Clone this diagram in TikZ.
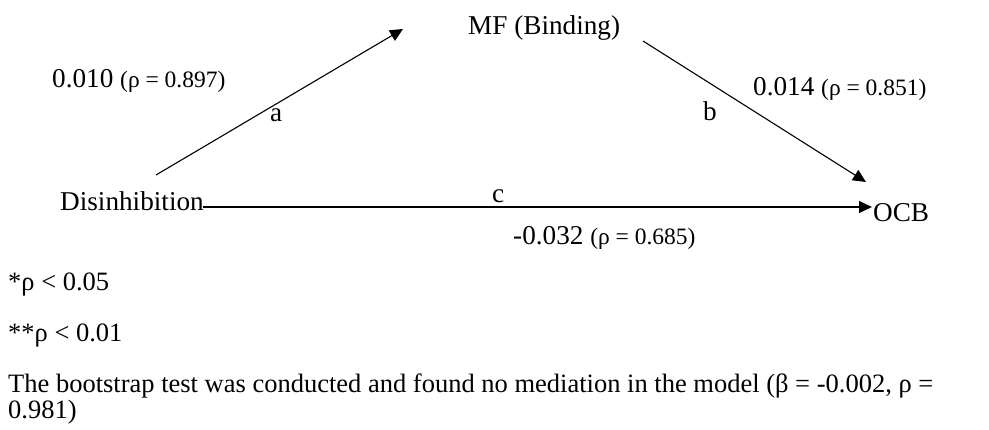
\documentclass[tikz,border=0pt]{standalone}
\usepackage{fontspec}
\setmainfont{Liberation Serif}
\usetikzlibrary{arrows.meta}
\newcommand\smp{\fontsize{23.5}{28}\selectfont}
\begin{document}
\begin{tikzpicture}[x=1pt,y=-1pt,
  lbl/.style={inner sep=0pt, anchor=base west, font=\fontsize{27.2}{32}\selectfont},
  note/.style={inner sep=0pt, anchor=base west, font=\fontsize{26.5}{32}\selectfont},
  conn/.style={line width=1.1pt, -{Triangle[length=13pt,width=12pt]}}]
\useasboundingbox (0,0) rectangle (989,429);
\node[lbl] (mf) at (468,34) {MF (Binding)};
\node[lbl] (coefa) at (52,87) {0.010 {\smp(ρ = 0.897)}};
\node[lbl] (la) at (270,121) {a};
\node[lbl] (lb) at (703,120) {b};
\node[lbl] (coefb) at (753,95) {0.014 {\smp(ρ = 0.851)}};
\node[lbl] (lc) at (492,202) {c};
\node[lbl] (dis) at (60,210) {Disinhibition};
\node[lbl] (ocb) at (873,221) {OCB};
\node[lbl] (coefc) at (513,244) {-0.032 {\smp(ρ = 0.685)}};
\node[note] (n1) at (8,290) {*ρ < 0.05};
\node[note] (n2) at (8,341) {**ρ < 0.01};
\node[note] (n3) at (8,392) {The bootstrap test was conducted and found no mediation in the model (β = -0.002, ρ =};
\node[note] (n4) at (8,418) {0.981)};
\coordinate (a1) at (156,175);
\coordinate (a2) at (403,29);
\coordinate (b1) at (643,41);
\coordinate (b2) at (866,182);
\coordinate (c1) at (203,207);
\coordinate (c2) at (872,207);
\draw[conn] (a1) -- (a2);
\draw[conn] (b1) -- (b2);
\draw[conn] (c1) -- (c2);
\end{tikzpicture}
\end{document}
